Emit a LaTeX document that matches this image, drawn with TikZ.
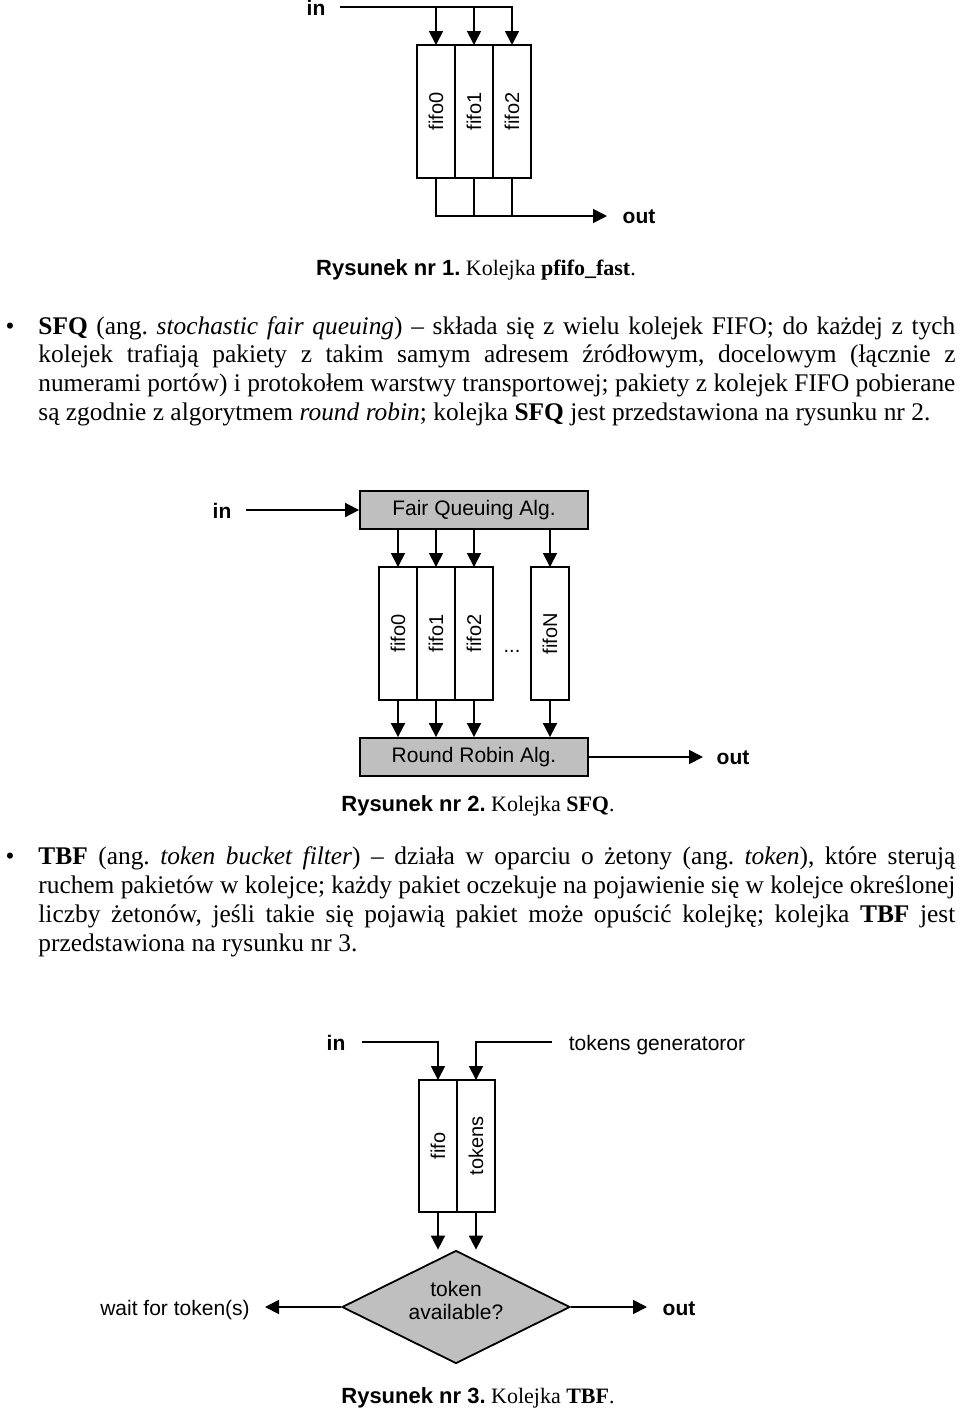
\documentclass[tikz,border=0pt]{standalone}
\usepackage{fontspec}
\usepackage{graphicx}
\setmainfont{Liberation Serif}
\newfontfamily\arialfont{Liberation Sans}
\usetikzlibrary{positioning, shapes.geometric, arrows.meta}
\frenchspacing

% one printed line of a paragraph, set to a given width
\newsavebox\rowbox
\newcommand\fitrow[2]{\sbox\rowbox{#2}%
  \ifdim\wd\rowbox>#1\relax\resizebox{#1}{\height}{\usebox\rowbox}%
  \else\makebox[#1][s]{#2}\fi}

\begin{document}
\begin{tikzpicture}[
  x=0.5pt, y=-0.5pt,
  wire/.style={line width=0.9pt},
  arr/.style={wire, -{Triangle[length=7pt, width=7pt]}},
  fifo/.style={draw, line width=0.9pt, outer sep=0pt, inner sep=0pt,
    minimum width=19pt, minimum height=66.5pt,
    font=\arialfont\fontsize{10}{12}\selectfont},
  alg/.style={draw, line width=0.9pt, fill=gray!50, inner sep=0pt,
    minimum width=114pt, minimum height=19pt,
    font=\arialfont\fontsize{10.5}{12}\selectfont},
  decide/.style={diamond, aspect=2, draw, line width=0.9pt, fill=gray!50,
    inner sep=0pt, minimum width=114pt, minimum height=56.5pt, align=center,
    font=\arialfont\fontsize{10.5}{11.5}\selectfont},
  port/.style={inner sep=0pt, anchor=base, font=\arialfont\bfseries\fontsize{10.5}{12}\selectfont},
  note/.style={inner sep=0pt, anchor=base, font=\arialfont\fontsize{10.5}{12}\selectfont},
  capt/.style={inner sep=0pt, anchor=base, font=\fontsize{11}{13}\selectfont},
  para/.style={inner sep=0pt, anchor=base west, font=\fontsize{12.7}{15}\selectfont},
  dot/.style={inner sep=0pt, anchor=base, font=\fontsize{12.7}{15}\selectfont},
]
\fill[white] (0,0) rectangle (960,1410);
\useasboundingbox (0,0) rectangle (960,1410);

% --- Rysunek 1: pfifo_fast
\node[port] (in1) at (316,15) {in};
\coordinate (s1) at (340,7);
\node[fifo] (f10) at (436,111.5) {\rotatebox{90}{fifo0}};
\node[fifo, right=0pt of f10] (f11) {\rotatebox{90}{fifo1}};
\node[fifo, right=0pt of f11] (f12) {\rotatebox{90}{fifo2}};
\coordinate (o1) at (607,216);
\node[port] (out1) at (639,223) {out};

\draw[arr] (s1) -| (f10.north);
\draw[arr] (s1) -| (f11.north);
\draw[arr] (s1) -| (f12.north);
\draw[wire] (f11.south) -- (f11.south |- o1);
\draw[wire] (f12.south) -- (f12.south |- o1);
\draw[arr] (f10.south) |- (o1);

\node[capt] (cap1) at (476,275) {{\arialfont\bfseries Rysunek nr 1.} Kolejka \textbf{pfifo\_fast}.};

% --- SFQ
\node[dot] (b1) at (10,334) {•};
\node[para] (p11) at (38,334) {\fitrow{458.5pt}{\textbf{SFQ} (ang. \textit{stochastic fair queuing}) – składa się z wielu kolejek FIFO; do każdej z tych}};
\node[para] (p12) at (38,362) {\fitrow{458.5pt}{kolejek trafiają pakiety z takim samym adresem źródłowym, docelowym (łącznie z}};
\node[para] (p13) at (38,391) {\fitrow{458.5pt}{numerami portów) i protokołem warstwy transportowej; pakiety z kolejek FIFO pobierane}};
\node[para] (p14) at (38,420) {\fitrow{446pt}{są zgodnie z algorytmem \textit{round robin}; kolejka \textbf{SFQ} jest przedstawiona na rysunku nr 2.}};

% --- Rysunek 2: SFQ
\node[port] (in2) at (222,518) {in};
\node[alg] (fq) at (474,510) {Fair Queuing Alg.};
\coordinate (s2) at (246,510);
\node[fifo] (f20) at (398,633.5) {\rotatebox{90}{fifo0}};
\node[fifo, right=0pt of f20] (f21) {\rotatebox{90}{fifo1}};
\node[fifo, right=0pt of f21] (f22) {\rotatebox{90}{fifo2}};
\node[note, font=\arialfont\fontsize{10}{12}\selectfont] (dots) at (512,652) {...};
\node[fifo] (f2n) at (550,633.5) {\rotatebox{90}{fifoN}};
\node[alg] (rr) at (474,757) {Round Robin Alg.};
\coordinate (o2) at (703,757);
\node[port] (out2) at (733,764) {out};

\draw[arr] (s2) -- (fq.west);
\foreach \f in {f20,f21,f22,f2n} {
  \draw[arr] (\f.north |- fq.south) -- (\f.north);
  \draw[arr] (\f.south) -- (\f.south |- rr.north);
}
\draw[arr] (rr.east) -- (o2);

\node[capt] (cap2) at (478,811) {{\arialfont\bfseries Rysunek nr 2.} Kolejka \textbf{SFQ}.};

% --- TBF
\node[dot] (b2) at (10,864) {•};
\node[para] (p21) at (38,864) {\fitrow{458.5pt}{\textbf{TBF} (ang. \textit{token bucket filter}) – działa w oparciu o żetony (ang. \textit{token}), które sterują}};
\node[para] (p22) at (38,893) {\fitrow{458.5pt}{ruchem pakietów w kolejce; każdy pakiet oczekuje na pojawienie się w kolejce określonej}};
\node[para] (p23) at (38,922) {\fitrow{458.5pt}{liczby żetonów, jeśli takie się pojawią pakiet może opuścić kolejkę; kolejka \textbf{TBF} jest}};
\node[para] (p24) at (38,951) {\fitrow{159.5pt}{przedstawiona na rysunku nr 3.}};

% --- Rysunek 3: TBF
\node[port] (in3) at (336,1050) {in};
\coordinate (s3) at (362,1042);
\coordinate (g3) at (552,1042);
\node[note] (gen) at (657,1050) {tokens generatoror};
\node[fifo, minimum height=66pt] (f30) at (438,1146) {\rotatebox{90}{fifo}};
\node[fifo, minimum height=66pt, right=0pt of f30] (f31) {\rotatebox{90}{tokens}};
\node[decide] (dm) at (456,1307) {token\\available?\\[-5pt]};
\coordinate (w3) at (265,1307);
\node[note] (wait) at (175,1315) {wait for token(s)};
\coordinate (o3) at (647,1307);
\node[port] (out3) at (679,1315) {out};

\draw[arr] (s3) -| (f30.north);
\draw[arr] (g3) -| (f31.north);
\draw[arr] (f30.south) -- (f30.south |- dm.north);
\draw[arr] (f31.south) -- (f31.south |- dm.north);
\draw[arr] (dm.west) -- (w3);
\draw[arr] (dm.east) -- (o3);

\node[capt] (cap3) at (478,1403) {{\arialfont\bfseries Rysunek nr 3.} Kolejka \textbf{TBF}.};
\end{tikzpicture}
\end{document}
